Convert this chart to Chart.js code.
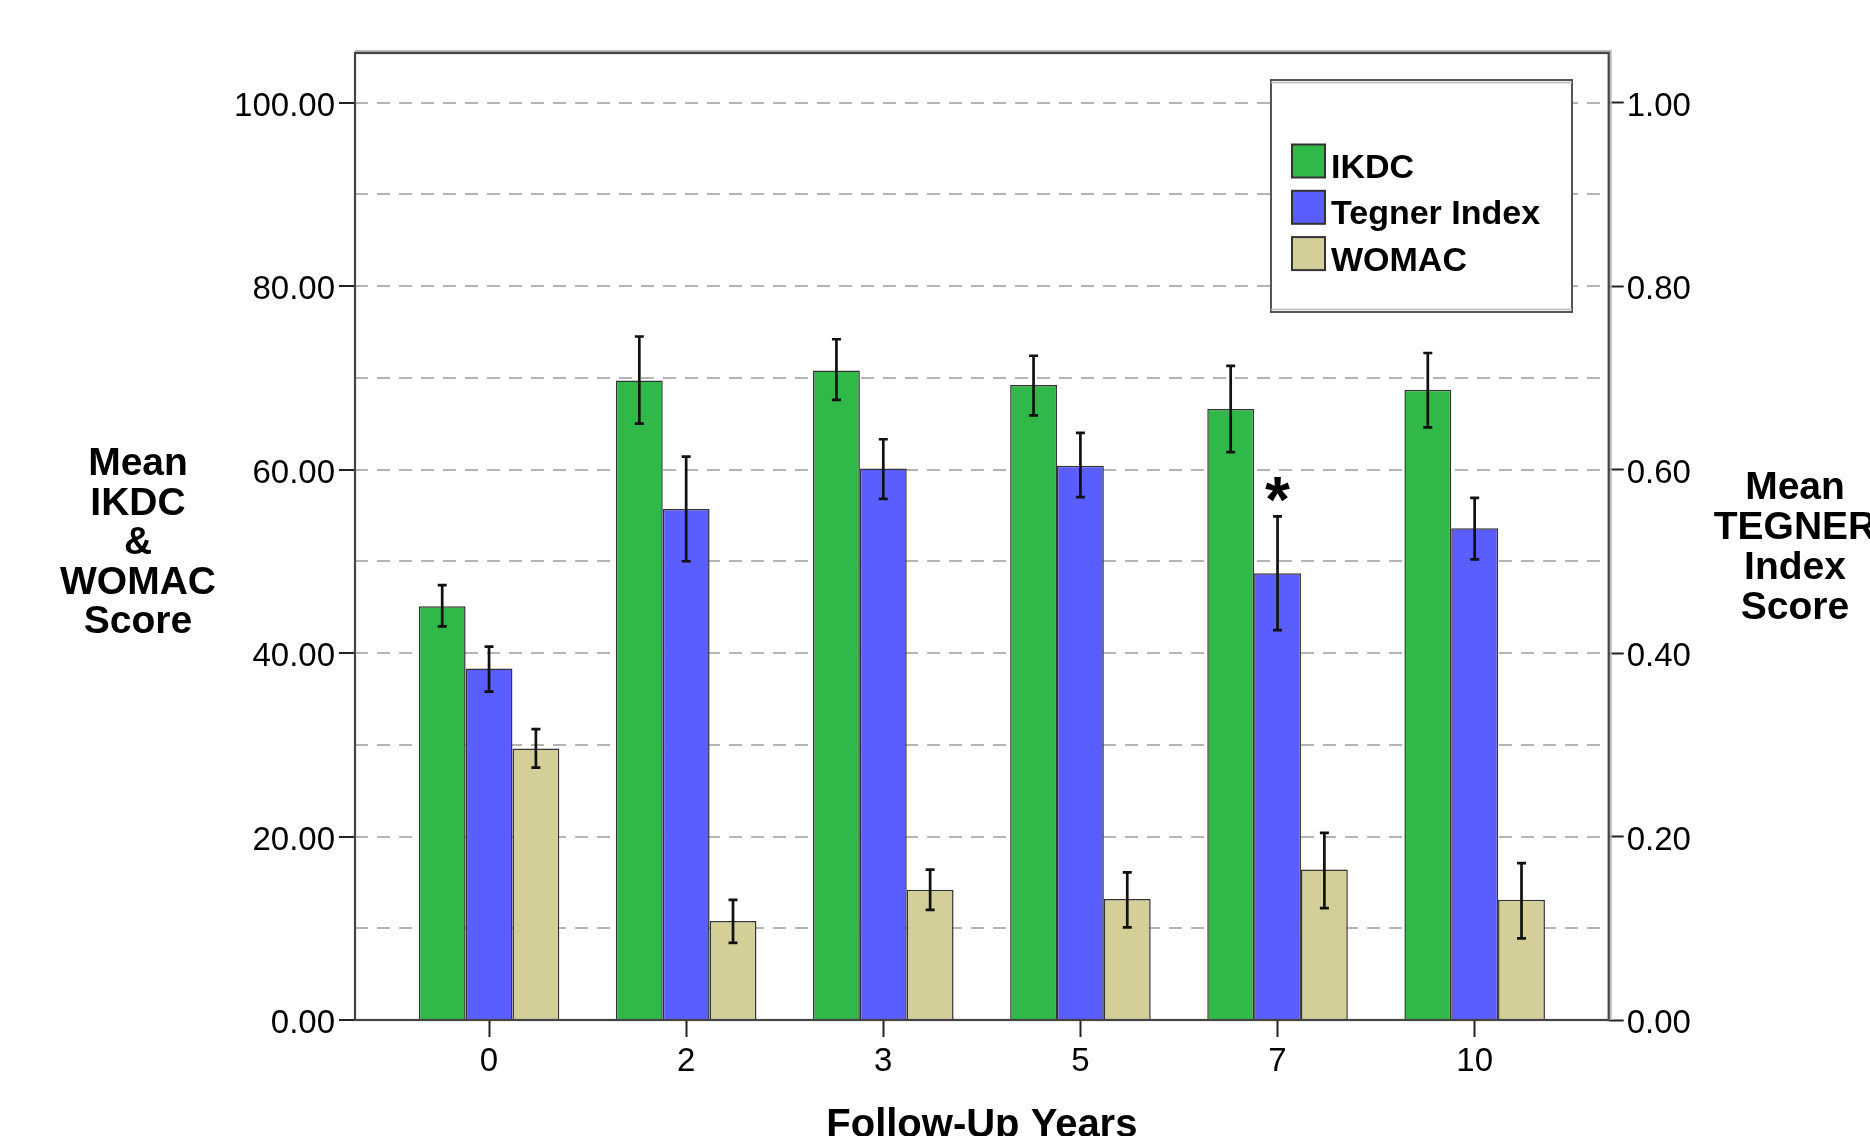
<!DOCTYPE html>
<html>
<head>
<meta charset="utf-8">
<script src="https://cdn.jsdelivr.net/npm/chart.js@4.4.1/dist/chart.umd.min.js"></script>
<style>
    html, body { margin: 0; padding: 0; background: #fff; overflow: hidden; }
    #wrap { width: 1870px; height: 1136px; }
</style>
</head>
<body>
<div id="wrap"><canvas id="score_canvas"></canvas></div>
<script>
const follow_up_years = ["0", "2", "3", "5", "7", "10"];

const ikdc_mean = [45.1, 69.7, 70.8, 69.2, 66.6, 68.7];
const ikdc_low = [42.9, 65.0, 67.6, 65.9, 61.9, 64.6];
const ikdc_high = [47.4, 74.5, 74.2, 72.4, 71.3, 72.7];

const tegner_mean = [0.383, 0.557, 0.601, 0.604, 0.487, 0.536];
const tegner_low = [0.358, 0.500, 0.568, 0.570, 0.425, 0.502];
const tegner_high = [0.407, 0.614, 0.633, 0.640, 0.549, 0.569];

const womac_mean = [29.6, 10.8, 14.2, 13.2, 16.4, 13.1];
const womac_low = [27.5, 8.4, 12.0, 10.1, 12.2, 8.9];
const womac_high = [31.7, 13.1, 16.4, 16.1, 20.4, 17.1];

// asterisk over the Tegner bar
const tegner_significant = [false, false, false, false, true, false];

const left_ticks = [0, 10, 20, 30, 40, 50, 60, 70, 80, 90, 100];
const right_ticks = [0, 0.1, 0.2, 0.3, 0.4, 0.5, 0.6, 0.7, 0.8, 0.9, 1.0];

const FONT = "'Liberation Sans', Arial, Helvetica, sans-serif";
Chart.defaults.font.family = FONT;
Chart.defaults.color = "#000";

function to_points(values) {
    return values.map(function(v, i) { return {x: i, y: v}; });
}

function is_major(value) {
    return Math.round(value * 100) % 20 === 0;
}

const extras_plugin = {
    id: "extras",
    afterDatasetsDraw: function(chart) {
        const ctx = chart.ctx;
        ctx.save();
        ctx.strokeStyle = "#111";
        ctx.lineWidth = 2.7;
        chart.data.datasets.forEach(function(ds, i) {
            const meta = chart.getDatasetMeta(i);
            const scale = chart.scales[meta.yAxisID];
            meta.data.forEach(function(bar, j) {
                const top = scale.getPixelForValue(ds.err_high[j]);
                const bottom = scale.getPixelForValue(ds.err_low[j]);
                ctx.beginPath();
                ctx.moveTo(bar.x, top);
                ctx.lineTo(bar.x, bottom);
                ctx.moveTo(bar.x - 4.5, top);
                ctx.lineTo(bar.x + 4.5, top);
                ctx.moveTo(bar.x - 4.5, bottom);
                ctx.lineTo(bar.x + 4.5, bottom);
                ctx.stroke();
            });
        });

        // asterisk
        const teg_meta = chart.getDatasetMeta(1);
        const y1 = chart.scales.y1;
        ctx.fillStyle = "#000";
        ctx.textAlign = "center";
        ctx.textBaseline = "alphabetic";
        ctx.font = "bold 64px " + FONT;
        tegner_significant.forEach(function(flag, j) {
            if (!flag) {return;}
            const bar = teg_meta.data[j];
            ctx.fillText("*", bar.x, y1.getPixelForValue(tegner_high[j]) + 6);
        });
        ctx.restore();
    },
    afterDraw: function(chart) {
        const ctx = chart.ctx;
        const area = chart.chartArea;
        ctx.save();

        // frame
        ctx.strokeStyle = "#b8b8b8";
        ctx.lineWidth = 2;
        ctx.beginPath();
        ctx.moveTo(area.left, area.top - 2);
        ctx.lineTo(area.right + 2, area.top - 2);
        ctx.lineTo(area.right + 2, area.bottom);
        ctx.stroke();
        ctx.strokeStyle = "#444";
        ctx.lineWidth = 2.2;
        ctx.strokeRect(area.left, area.top, area.right - area.left, area.bottom - area.top);

        // legend
        const box = {x: 1271, y: 80, w: 301, h: 232};
        ctx.fillStyle = "#fff";
        ctx.fillRect(box.x, box.y, box.w, box.h);
        ctx.strokeStyle = "#555";
        ctx.lineWidth = 2;
        ctx.strokeRect(box.x, box.y, box.w, box.h);
        ctx.strokeStyle = "#bbb";
        ctx.lineWidth = 1.5;
        ctx.beginPath();
        ctx.moveTo(box.x, box.y + 2.5);
        ctx.lineTo(box.x + box.w, box.y + 2.5);
        ctx.moveTo(box.x, box.y + box.h - 2.5);
        ctx.lineTo(box.x + box.w, box.y + box.h - 2.5);
        ctx.stroke();

        ctx.font = "bold 34px " + FONT;
        ctx.textAlign = "left";
        ctx.textBaseline = "alphabetic";
        chart.data.datasets.forEach(function(ds, i) {
            const sy = 144.5 + i * 46.3;
            ctx.fillStyle = ds.backgroundColor;
            ctx.fillRect(1292, sy, 33, 33);
            ctx.strokeStyle = "#333";
            ctx.lineWidth = 2;
            ctx.strokeRect(1292, sy, 33, 33);
            ctx.fillStyle = "#000";
            ctx.fillText(ds.label, 1331, sy + 33.5);
        });

        // axis titles
        ctx.font = "bold 39px " + FONT;
        ctx.textAlign = "center";
        ["Mean", "IKDC", "&", "WOMAC", "Score"].forEach(function(line, k) {
            ctx.fillText(line, 138, 475 + k * 39.5);
        });
        ["Mean", "TEGNER", "Index", "Score"].forEach(function(line, k) {
            ctx.fillText(line, 1795, 499 + k * 40);
        });
        ctx.font = "bold 40px " + FONT;
        ctx.fillText("Follow-Up Years", (area.left + area.right) / 2, 1137);

        ctx.restore();
    }
};

const config = {
    type: "bar",
    data: {
        datasets: [
            {
                label: "IKDC",
                data: to_points(ikdc_mean),
                err_low: ikdc_low,
                err_high: ikdc_high,
                backgroundColor: "#30b848",
                borderColor: "#333",
                borderWidth: 1.5,
                yAxisID: "y"
            },
            {
                label: "Tegner Index",
                data: to_points(tegner_mean),
                err_low: tegner_low,
                err_high: tegner_high,
                backgroundColor: "#5a5eff",
                borderColor: "#333",
                borderWidth: 1.5,
                yAxisID: "y1"
            },
            {
                label: "WOMAC",
                data: to_points(womac_mean),
                err_low: womac_low,
                err_high: womac_high,
                backgroundColor: "#d4cf98",
                borderColor: "#333",
                borderWidth: 1.5,
                yAxisID: "y"
            }
        ]
    },
    options: {
        responsive: true,
        maintainAspectRatio: false,
        animation: false,
        layout: {padding: {top: 53, left: 0, right: 0, bottom: 0}},
        datasets: {bar: {categoryPercentage: 0.713, barPercentage: 1}},
        plugins: {
            legend: {display: false},
            tooltip: {enabled: false}
        },
        scales: {
            x: {
                type: "linear",
                min: -0.68,
                max: 5.68,
                offset: false,
                stacked: false,
                afterBuildTicks: function(scale) {
                    scale.ticks = follow_up_years.map(function(_, i) { return {value: i}; });
                },
                afterFit: function(scale) { scale.height = 116; },
                grid: {drawOnChartArea: false, offset: false, tickLength: 17, tickWidth: 2, tickColor: "#222"},
                border: {display: false},
                ticks: {
                    autoSkip: false,
                    maxRotation: 0,
                    padding: 5,
                    font: {size: 33},
                    callback: function(value) { return follow_up_years[value]; }
                }
            },
            y: {
                position: "left",
                min: 0,
                max: 105.4,
                afterBuildTicks: function(scale) {
                    scale.ticks = left_ticks.map(function(v) { return {value: v}; });
                },
                afterFit: function(scale) { scale.width = 355; },
                grid: {
                    color: "#b4b4b4",
                    lineWidth: 2,
                    tickLength: 16,
                    tickWidth: 2,
                    tickBorderDash: [],
                    tickColor: function(c) { return is_major(c.tick.value / 100) ? "#222" : "rgba(0,0,0,0)"; }
                },
                border: {display: false, dash: [13, 9]},
                ticks: {
                    autoSkip: false,
                    padding: 4,
                    labelOffset: 4,
                    font: {size: 33},
                    callback: function(value) { return is_major(value / 100) ? value.toFixed(2) : ""; }
                }
            },
            y1: {
                position: "right",
                min: 0,
                max: 1.054,
                afterBuildTicks: function(scale) {
                    scale.ticks = right_ticks.map(function(v) { return {value: v}; });
                },
                afterFit: function(scale) { scale.width = 1870 - 1608.7; },
                grid: {
                    drawOnChartArea: false,
                    tickLength: 15,
                    tickWidth: 2,
                    tickColor: function(c) { return is_major(c.tick.value) ? "#222" : "rgba(0,0,0,0)"; }
                },
                border: {display: false},
                ticks: {
                    autoSkip: false,
                    padding: 3,
                    labelOffset: 4,
                    font: {size: 33},
                    callback: function(value) { return is_major(value) ? value.toFixed(2) : ""; }
                }
            }
        }
    },
    plugins: [extras_plugin]
};

const score_plot = new Chart(document.getElementById("score_canvas"), config);
</script>
</body>
</html>
